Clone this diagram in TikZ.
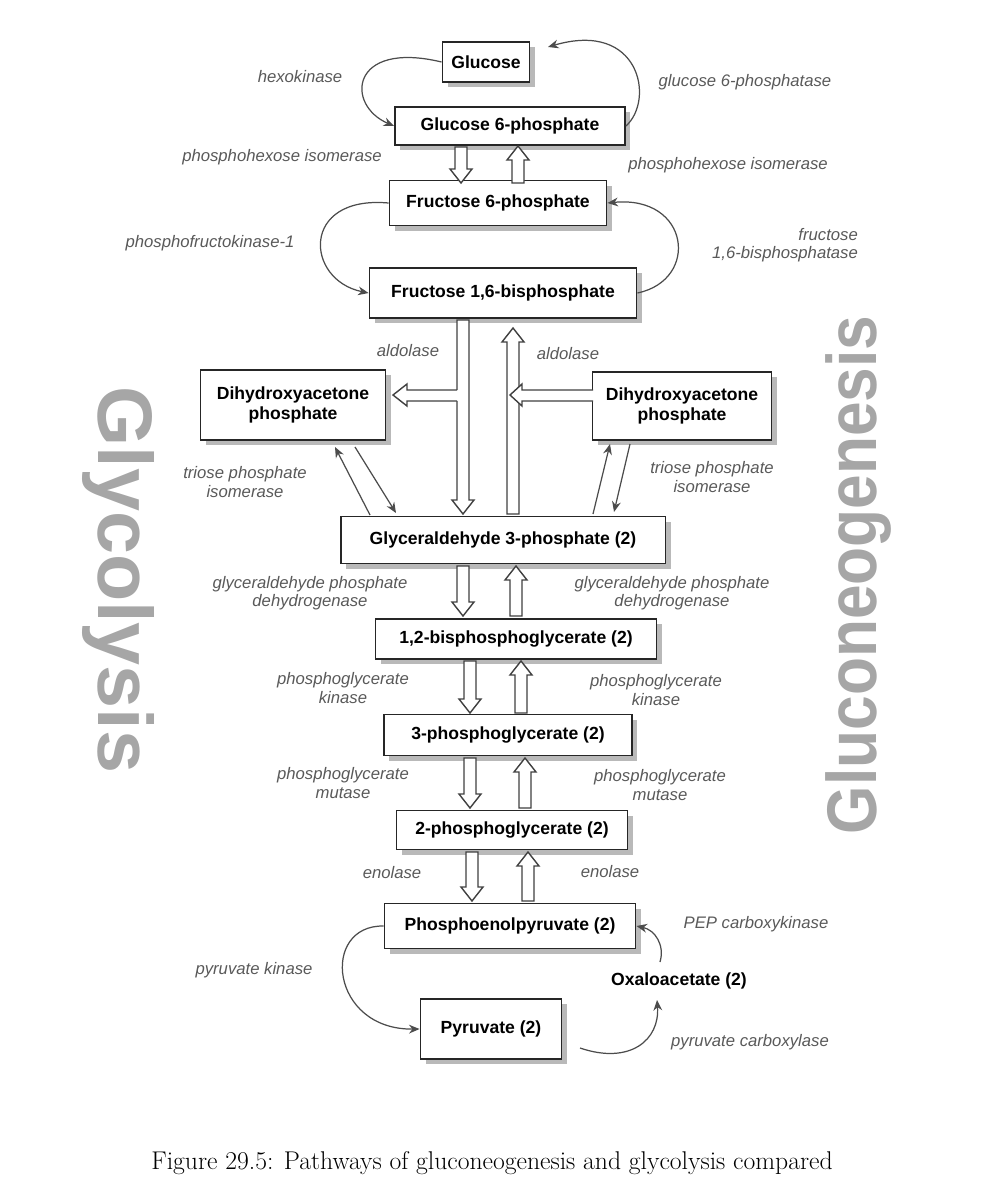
\documentclass[tikz,border=0pt]{standalone}
\usepackage{fontspec}
\setmainfont{Latin Modern Roman}
\newfontfamily\dsans{Liberation Sans}
\usetikzlibrary{shadows,arrows.meta}
\definecolor{lab}{gray}{0.35}
\newcommand\hdown[3]{\draw[harrow] ({#1-6},#2) -- ({#1-6},{#3-14}) -- ({#1-11},{#3-14}) -- (#1,#3) -- ({#1+11},{#3-14}) -- ({#1+6},{#3-14}) -- ({#1+6},#2) -- cycle;}
\newcommand\hup[3]{\draw[harrow] ({#1-6},#2) -- ({#1-6},{#3+14}) -- ({#1-11},{#3+14}) -- (#1,#3) -- ({#1+11},{#3+14}) -- ({#1+6},{#3+14}) -- ({#1+6},#2) -- cycle;}
\begin{document}
\begin{tikzpicture}[x=0.02cm,y=-0.02cm,
  box/.style={draw=black!85,line width=1.1pt,fill=white,font=\dsans\bfseries\fontsize{10}{11}\selectfont,align=center,inner sep=2pt,
    drop shadow={shadow xshift=3pt,shadow yshift=-3pt,fill=gray!55,opacity=1}},
  enz/.style={font=\dsans\itshape\fontsize{9.5}{10.5}\selectfont,text=lab,align=center,inner sep=1pt},
  carr/.style={draw=black!70,line width=0.7pt,-{Stealth[length=6pt,width=5pt]}},
  harrow/.style={draw=black!75,line width=0.8pt,fill=white},
  big/.style={font=\dsans\bfseries,text=gray!70,draw=none}]
\useasboundingbox (0,0) rectangle (998,1200);
% nodes
\node[box,minimum width=1.74cm,minimum height=0.8cm] (glc) at (486,62) {Glucose};
\node[box,minimum width=4.6cm,minimum height=0.76cm] (g6p) at (510,126) {Glucose 6-phosphate};
\node[box,minimum width=4.34cm,minimum height=0.9cm] (f6p) at (498,203) {Fructose 6-phosphate};
\node[box,minimum width=5.34cm,minimum height=1cm] (fbp) at (503,293) {Fructose 1,6-bisphosphate};
\node[box,minimum width=3.7cm,minimum height=1.4cm] (dl) at (293,405) {Dihydroxyacetone\\phosphate};
\node[box,minimum width=3.58cm,minimum height=1.36cm] (dr) at (682,406) {Dihydroxyacetone\\phosphate};
\node[box,minimum width=6.5cm,minimum height=0.94cm] (gap) at (503,540) {Glyceraldehyde 3-phosphate (2)};
\node[box,minimum width=5.62cm,minimum height=0.8cm] (bpg) at (516,639) {1,2-bisphosphoglycerate (2)};
\node[box,minimum width=4.96cm,minimum height=0.82cm] (pg3) at (508,735) {3-phosphoglycerate (2)};
\node[box,minimum width=4.62cm,minimum height=0.78cm] (pg2) at (512,830) {2-phosphoglycerate (2)};
\node[box,minimum width=5.02cm,minimum height=0.9cm] (pep) at (510,926) {Phosphoenolpyruvate (2)};
\node[box,minimum width=2.82cm,minimum height=1.2cm] (pyr) at (491,1029) {Pyruvate (2)};
\node[font=\dsans\bfseries\fontsize{10}{11}\selectfont] (oaa) at (679,981) {Oxaloacetate (2)};
% hollow arrows
\hdown{461}{147}{183}\hup{518}{183}{146}
\hdown{463}{320}{514}
\hup{513}{514}{328}
\fill[white] (468,390) rectangle (407,401);
\draw[harrow] (457,390) -- (407,390) -- (407,384) -- (393,395) -- (407,406) -- (407,401) -- (457,401);
\fill[white] (593,390) rectangle (522,401);
\draw[harrow] (593,390) -- (522,390) -- (522,384) -- (510,395) -- (522,406) -- (522,401) -- (593,401);
\hdown{463}{566}{616}\hup{516}{616}{566}
\hdown{470}{661}{713}\hup{521}{713}{661}
\hdown{470}{758}{808}\hup{525}{808}{758}
\hdown{472}{852}{901}\hup{528}{901}{852}
% curved arrows
\draw[carr] (glc.west) .. controls (350,40) and (345,105) .. (g6p.west);
\draw[carr] (g6p.east) .. controls (655,100) and (640,20) .. (548,47);
\draw[carr] (f6p.west) .. controls (300,195) and (305,280) .. (fbp.west);
\draw[carr] (fbp.east) .. controls (700,280) and (690,195) .. (f6p.east);
\draw[carr] (370,515) -- (335,447);
\draw[carr] (355,447) -- (396,513);
\draw[carr] (593,514) -- (610,444);
\draw[carr] (630,444) -- (614,512);
\draw[carr] (pep.west) .. controls (320,925) and (330,1030) .. (pyr.west);
\draw[carr] (580,1048) .. controls (630,1065) and (660,1040) .. (657,1000);
\draw[carr] (660,962) .. controls (665,945) and (655,930) .. (pep.east);
% enzyme labels
\node[enz] at (300,77) {hexokinase};
\node[enz] at (745,82) {glucose 6-phosphatase};
\node[enz] at (282,157) {phosphohexose isomerase};
\node[enz] at (728,165) {phosphohexose isomerase};
\node[enz] at (210,243) {phosphofructokinase-1};
\node[enz,align=right] at (785,245) {fructose\\1,6-bisphosphatase};
\node[enz] at (408,351) {aldolase};
\node[enz] at (568,354) {aldolase};
\node[enz] at (245,482) {triose phosphate\\isomerase};
\node[enz] at (712,477) {triose phosphate\\isomerase};
\node[enz] at (310,593) {glyceraldehyde phosphate\\dehydrogenase};
\node[enz] at (672,593) {glyceraldehyde phosphate\\dehydrogenase};
\node[enz] at (343,688) {phosphoglycerate\\kinase};
\node[enz] at (656,690) {phosphoglycerate\\kinase};
\node[enz] at (343,783) {phosphoglycerate\\mutase};
\node[enz] at (660,785) {phosphoglycerate\\mutase};
\node[enz] at (392,873) {enolase};
\node[enz] at (610,872) {enolase};
\node[enz] at (254,970) {pyruvate kinase};
\node[enz] at (756,924) {PEP carboxykinase};
\node[enz] at (750,1042) {pyruvate carboxylase};
% big titles
\node[big,rotate=-90] (gly) at (118,580) {\fontsize{44}{46}\selectfont Glycolysis};
\node[big,rotate=90] (glu) at (858,575) {\fontsize{40}{42}\selectfont\scalebox{0.885}[1]{Gluconeogenesis}};
% caption
\node[font=\fontsize{14.6}{16}\selectfont] (cap) at (492,1163) {Figure 29.5: Pathways of gluconeogenesis and glycolysis compared};
\end{tikzpicture}
\end{document}
